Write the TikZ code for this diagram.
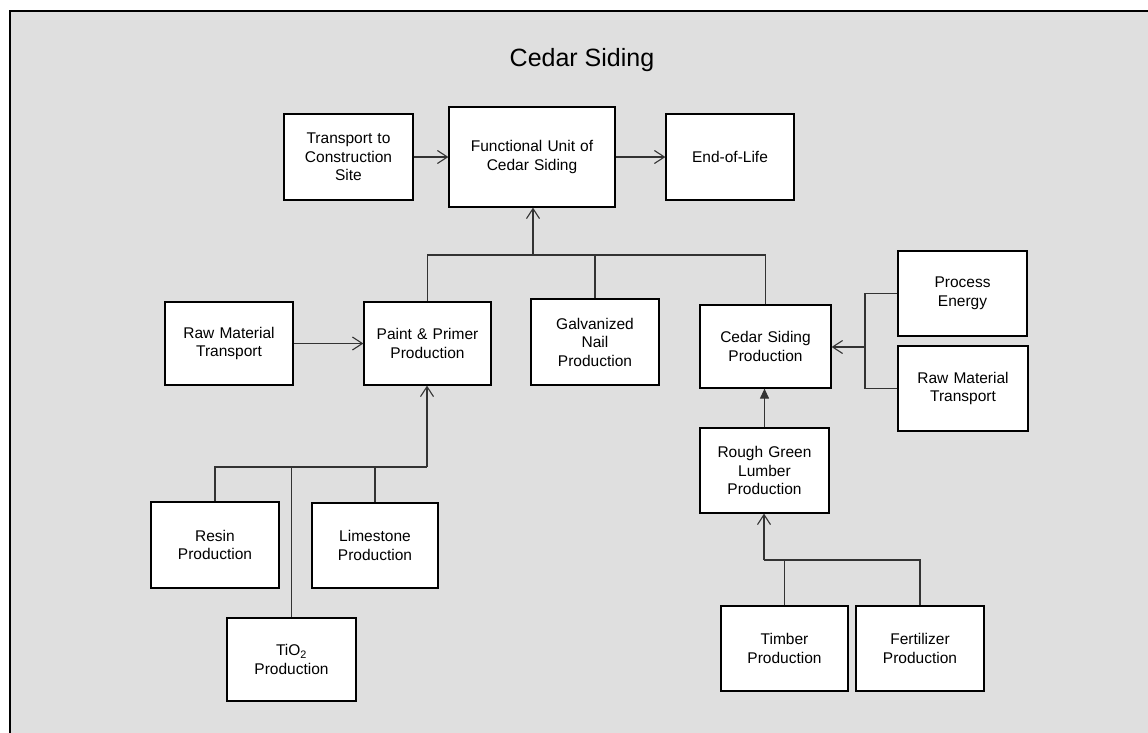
\documentclass[tikz,border=0pt]{standalone}
\usepackage{fontspec}
\setmainfont{Liberation Sans}
\usetikzlibrary{arrows.meta}
\begin{document}
\begin{tikzpicture}[x=1pt,y=-1pt,
  box/.style={draw=black,fill=white,line width=1.2pt,inner sep=0pt,align=center,
    font=\fontsize{15.5}{18.5}\selectfont,text width=#1-4pt},
  box/.default=128pt,
  conn/.style={draw=black!80,line width=1.1pt},
  arr/.style={conn,-{Straight Barb[length=10pt,width=13pt,line width=1.1pt]}},
  tri/.style={conn,-{Triangle[length=10pt,width=9pt]}}]
\useasboundingbox (0,0) rectangle (1148,732);
\fill[white] (0,0) rectangle (1148,732);
\draw[fill=black!12.5,line width=1.6pt] (10,11) rectangle (1152,736);
\node (title) at (582,60) {\fontsize{25}{30}\selectfont Cedar Siding};
% top row
\node[box=129pt,minimum width=129pt,minimum height=86pt] (trans) at (348.5,157) {Transport to\\Construction\\Site};
\node[box=166pt,minimum width=166pt,minimum height=100pt] (fu) at (532,157) {Functional Unit of\\Cedar Siding};
\node[box=128pt,minimum width=128pt,minimum height=86pt] (eol) at (730,157) {End-of-Life};
% middle row
\node[box=128pt,minimum width=128pt,minimum height=83pt] (rmt1) at (229,343.5) {Raw Material\\Transport};
\node[box=127pt,minimum width=127pt,minimum height=83pt] (paint) at (427.5,343.5) {Paint \& Primer\\Production};
\node[box=128pt,minimum width=128pt,minimum height=86pt] (galv) at (595,342) {Galvanized\\Nail\\Production};
\node[box=131pt,minimum width=131pt,minimum height=83pt] (cedar) at (765.5,346.5) {Cedar Siding\\Production};
\node[box=129pt,minimum width=129pt,minimum height=85pt] (pe) at (962.5,293.5) {Process\\Energy};
\node[box=130pt,minimum width=130pt,minimum height=85pt] (rmt2) at (963,388.5) {Raw Material\\Transport};
\node[box=129pt,minimum width=129pt,minimum height=85pt] (rgl) at (764.5,470.5) {Rough Green\\Lumber\\Production};
% bottom
\node[box=127pt,minimum width=127pt,minimum height=85pt] (timber) at (784.5,648.5) {Timber\\Production};
\node[box=128pt,minimum width=128pt,minimum height=85pt] (fert) at (920,648.5) {Fertilizer\\Production};
\node[box=128pt,minimum width=128pt,minimum height=86pt] (resin) at (215,545) {Resin\\Production};
\node[box=126pt,minimum width=126pt,minimum height=85pt] (lime) at (375,545.5) {Limestone\\Production};
\node[box=129pt,minimum width=129pt,minimum height=83pt] (tio2) at (291.5,659.5) {TiO\textsubscript{2}\\Production};
% connectors
\draw[arr] (trans) -- (fu);
\draw[arr] (fu) -- (eol);
\draw[arr] (rmt1) -- (paint);
\coordinate (j1) at (533,255);
\draw[conn] (paint.north) |- (j1);
\draw[conn] (galv.north) |- (j1);
\draw[conn] (cedar.north) |- (j1);
\draw[arr] (j1) -- (fu.south -| j1);
\coordinate (j2) at (865,347);
\draw[conn] (pe.west) -| (j2) |- (rmt2.west);
\draw[arr] (j2) -- (cedar.east |- j2);
\draw[tri] (rgl.north) -- (rgl.north |- cedar.south);
\coordinate (j3) at (764,560);
\draw[conn] (timber.north) |- (j3);
\draw[conn] (fert.north) |- (j3);
\draw[arr] (j3) -- (rgl.south -| j3);
\coordinate (j4) at (427,467);
\draw[conn] (resin.north) |- (j4);
\draw[conn] (lime.north) |- (j4);
\draw[conn] (tio2.north) |- (j4);
\draw[arr,line width=2pt] (j4) -- (paint.south -| j4);
\end{tikzpicture}
\end{document}
